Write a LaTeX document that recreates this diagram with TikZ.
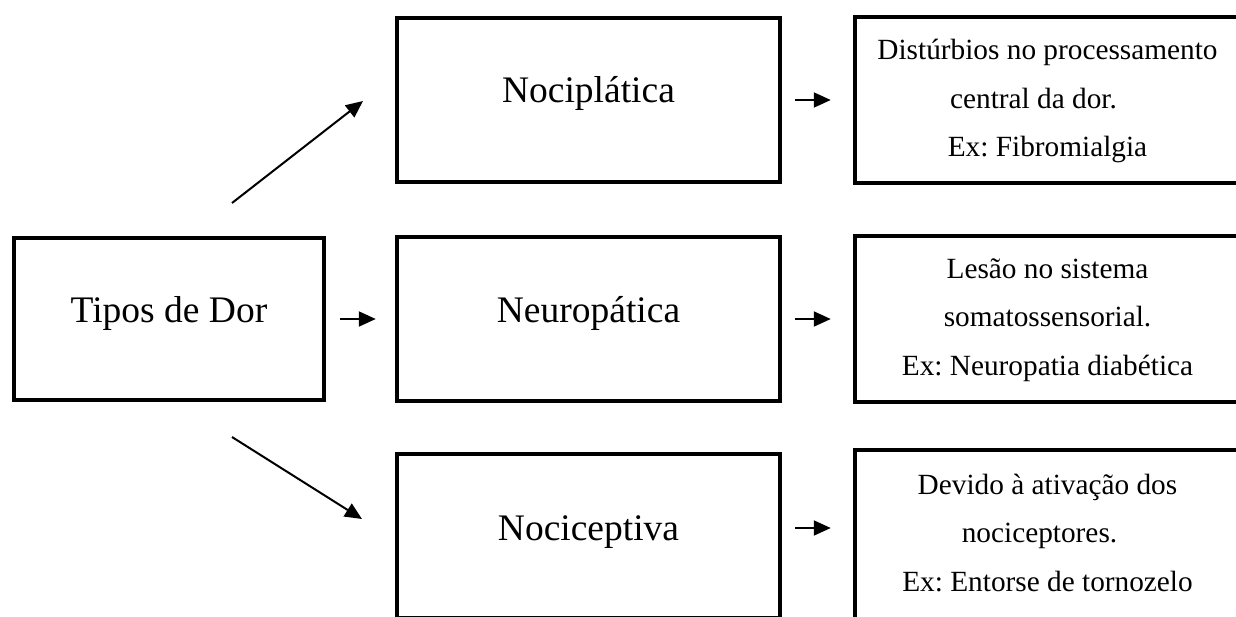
\documentclass[tikz,border=0pt]{standalone}
\usepackage{fontspec}
\setmainfont{Liberation Serif}
\usetikzlibrary{positioning,arrows.meta}

\begin{document}
\frenchspacing
\begin{tikzpicture}[x=1pt,y=-1pt,
                    box/.style={draw,line width=4.5pt,inner sep=0pt,minimum width=383pt,minimum height=164pt},
                    big/.style={font=\fontsize{37.5}{45}\selectfont,inner sep=0pt,anchor=base},
                    small/.style={font=\fontsize{29.3}{48.5}\selectfont,align=center,inner sep=0pt},
                    arr/.style={line width=2pt,-{Triangle[length=17pt,width=15pt]}}]
  \clip (0,0) rectangle (1236,616);
  % boxes
  \node[box,minimum width=310pt,minimum height=162pt] (tipos) at (169,319) {};
  \node[box] (noci) at (588.5,100) {};
  \node[box] (neuro) at (588.5,319) {};
  \node[box] (cept) at (588.5,536) {};
  \node[box,minimum width=385pt,minimum height=166pt] (r1) at (1047.5,100) {};
  \node[box,minimum width=385pt,minimum height=166pt] (r2) at (1047.5,319) {};
  \node[box,minimum width=385pt,minimum height=180pt] (r3) at (1047.5,540) {};
  % texts
  \node[big] (tiposT) at (169,322) {Tipos de Dor};
  \node[big] (nociT) at (588.5,102) {Nociplática};
  \node[big] (neuroT) at (588.5,322) {Neuropática};
  \node[big] (ceptT) at (588.5,540) {Nociceptiva};
  \node[small] (r1T) at (1047.5,101) {Distúrbios no processamento\\\mbox{central da dor.\hspace{28pt}}\\Ex: Fibromialgia};
  \node[small] (r2T) at (1047.5,320) {Lesão no sistema\\somatossensorial.\\Ex: Neuropatia diabética};
  \node[small] (r3T) at (1047.5,533) {Devido à ativação dos\\\mbox{nociceptores.\hspace{16pt}}\\Ex: Entorse de tornozelo};
  % arrows
  \coordinate (d1) at (232,203);
  \coordinate (d2) at (363,101);
  \coordinate (d3) at (232,437);
  \coordinate (d4) at (362,519);
  \draw[arr] (d1) -- (d2);
  \draw[arr] (d3) -- (d4);
  \draw[arr,shorten <=14pt,shorten >=19pt] (tipos.east) -- (neuro.west);
  \draw[arr,shorten <=13pt,shorten >=22pt] (noci.east) -- (r1.west);
  \draw[arr,shorten <=13pt,shorten >=22pt] (neuro.east) -- (r2.west);
  \draw[arr,shorten <=13pt,shorten >=22pt] ([yshift=8pt]cept.east) -- ([yshift=12pt]r3.west);
\end{tikzpicture}
\end{document}
